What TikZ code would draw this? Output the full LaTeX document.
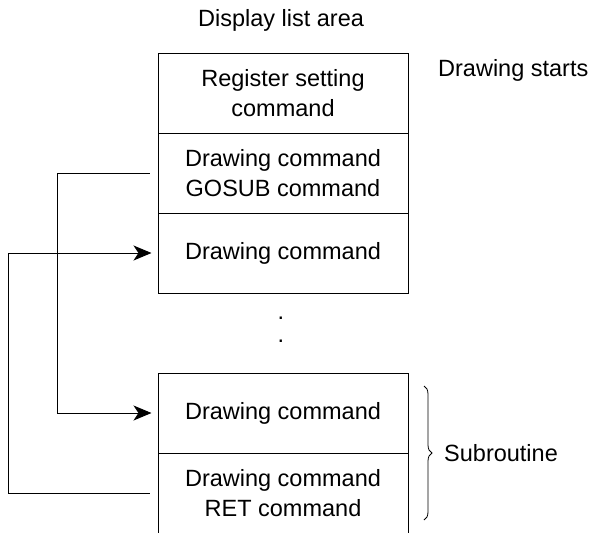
\documentclass[tikz,border=0pt]{standalone}
\usepackage{fontspec}
\setmainfont{Liberation Sans}
\usetikzlibrary{arrows.meta,decorations.pathreplacing,calc}
\begin{document}
\begin{tikzpicture}[x=1pt,y=-1pt,
  cell/.style={draw=black,line width=1pt,minimum width=250pt,minimum height=80pt,inner sep=0pt,align=center,font=\fontsize{23.5}{30}\selectfont},
  lbl/.style={font=\fontsize{23.5}{30}\selectfont,inner sep=0pt},
  conn/.style={line width=1pt,-{Stealth[length=18pt,width=15pt,inset=5pt]}}]
\useasboundingbox (0,0) rectangle (595,533);
\node[lbl] (title) at (281,20) {Display list area};
\node[cell] (r1) at (283,93) {Register setting\\command};
\node[cell] (r2) at (283,173) {Drawing command\\GOSUB command};
\node[cell] (r3) at (283,253) {Drawing command};
\node[lbl,anchor=west] (start) at (438,70) {Drawing starts};
\node[lbl] (d1) at (281,318) {.};
\node[lbl] (d2) at (281,341) {.};
\node[cell] (r4) at (283,413) {Drawing command};
\node[cell] (r5) at (283,493) {Drawing command\\RET command};
\coordinate (g1) at ($(r2.west)+(-8,0)$);
\coordinate (g2) at ($(r5.west)+(-8,0)$);
\coordinate (a1) at ($(r4.west)+(-6,0)$);
\coordinate (a2) at ($(r3.west)+(-6,0)$);
\draw[conn] (g1) -- (57,173) -- (57,413) -- (a1);
\draw[conn] (g2) -- (8,493) -- (8,253) -- (a2);
\draw[line width=0.8pt,decorate,decoration={brace,amplitude=8pt,aspect=0.5}] (424,386) -- (424,520);
\node[lbl,anchor=west] (sub) at (444,453) {Subroutine};
\end{tikzpicture}
\end{document}
